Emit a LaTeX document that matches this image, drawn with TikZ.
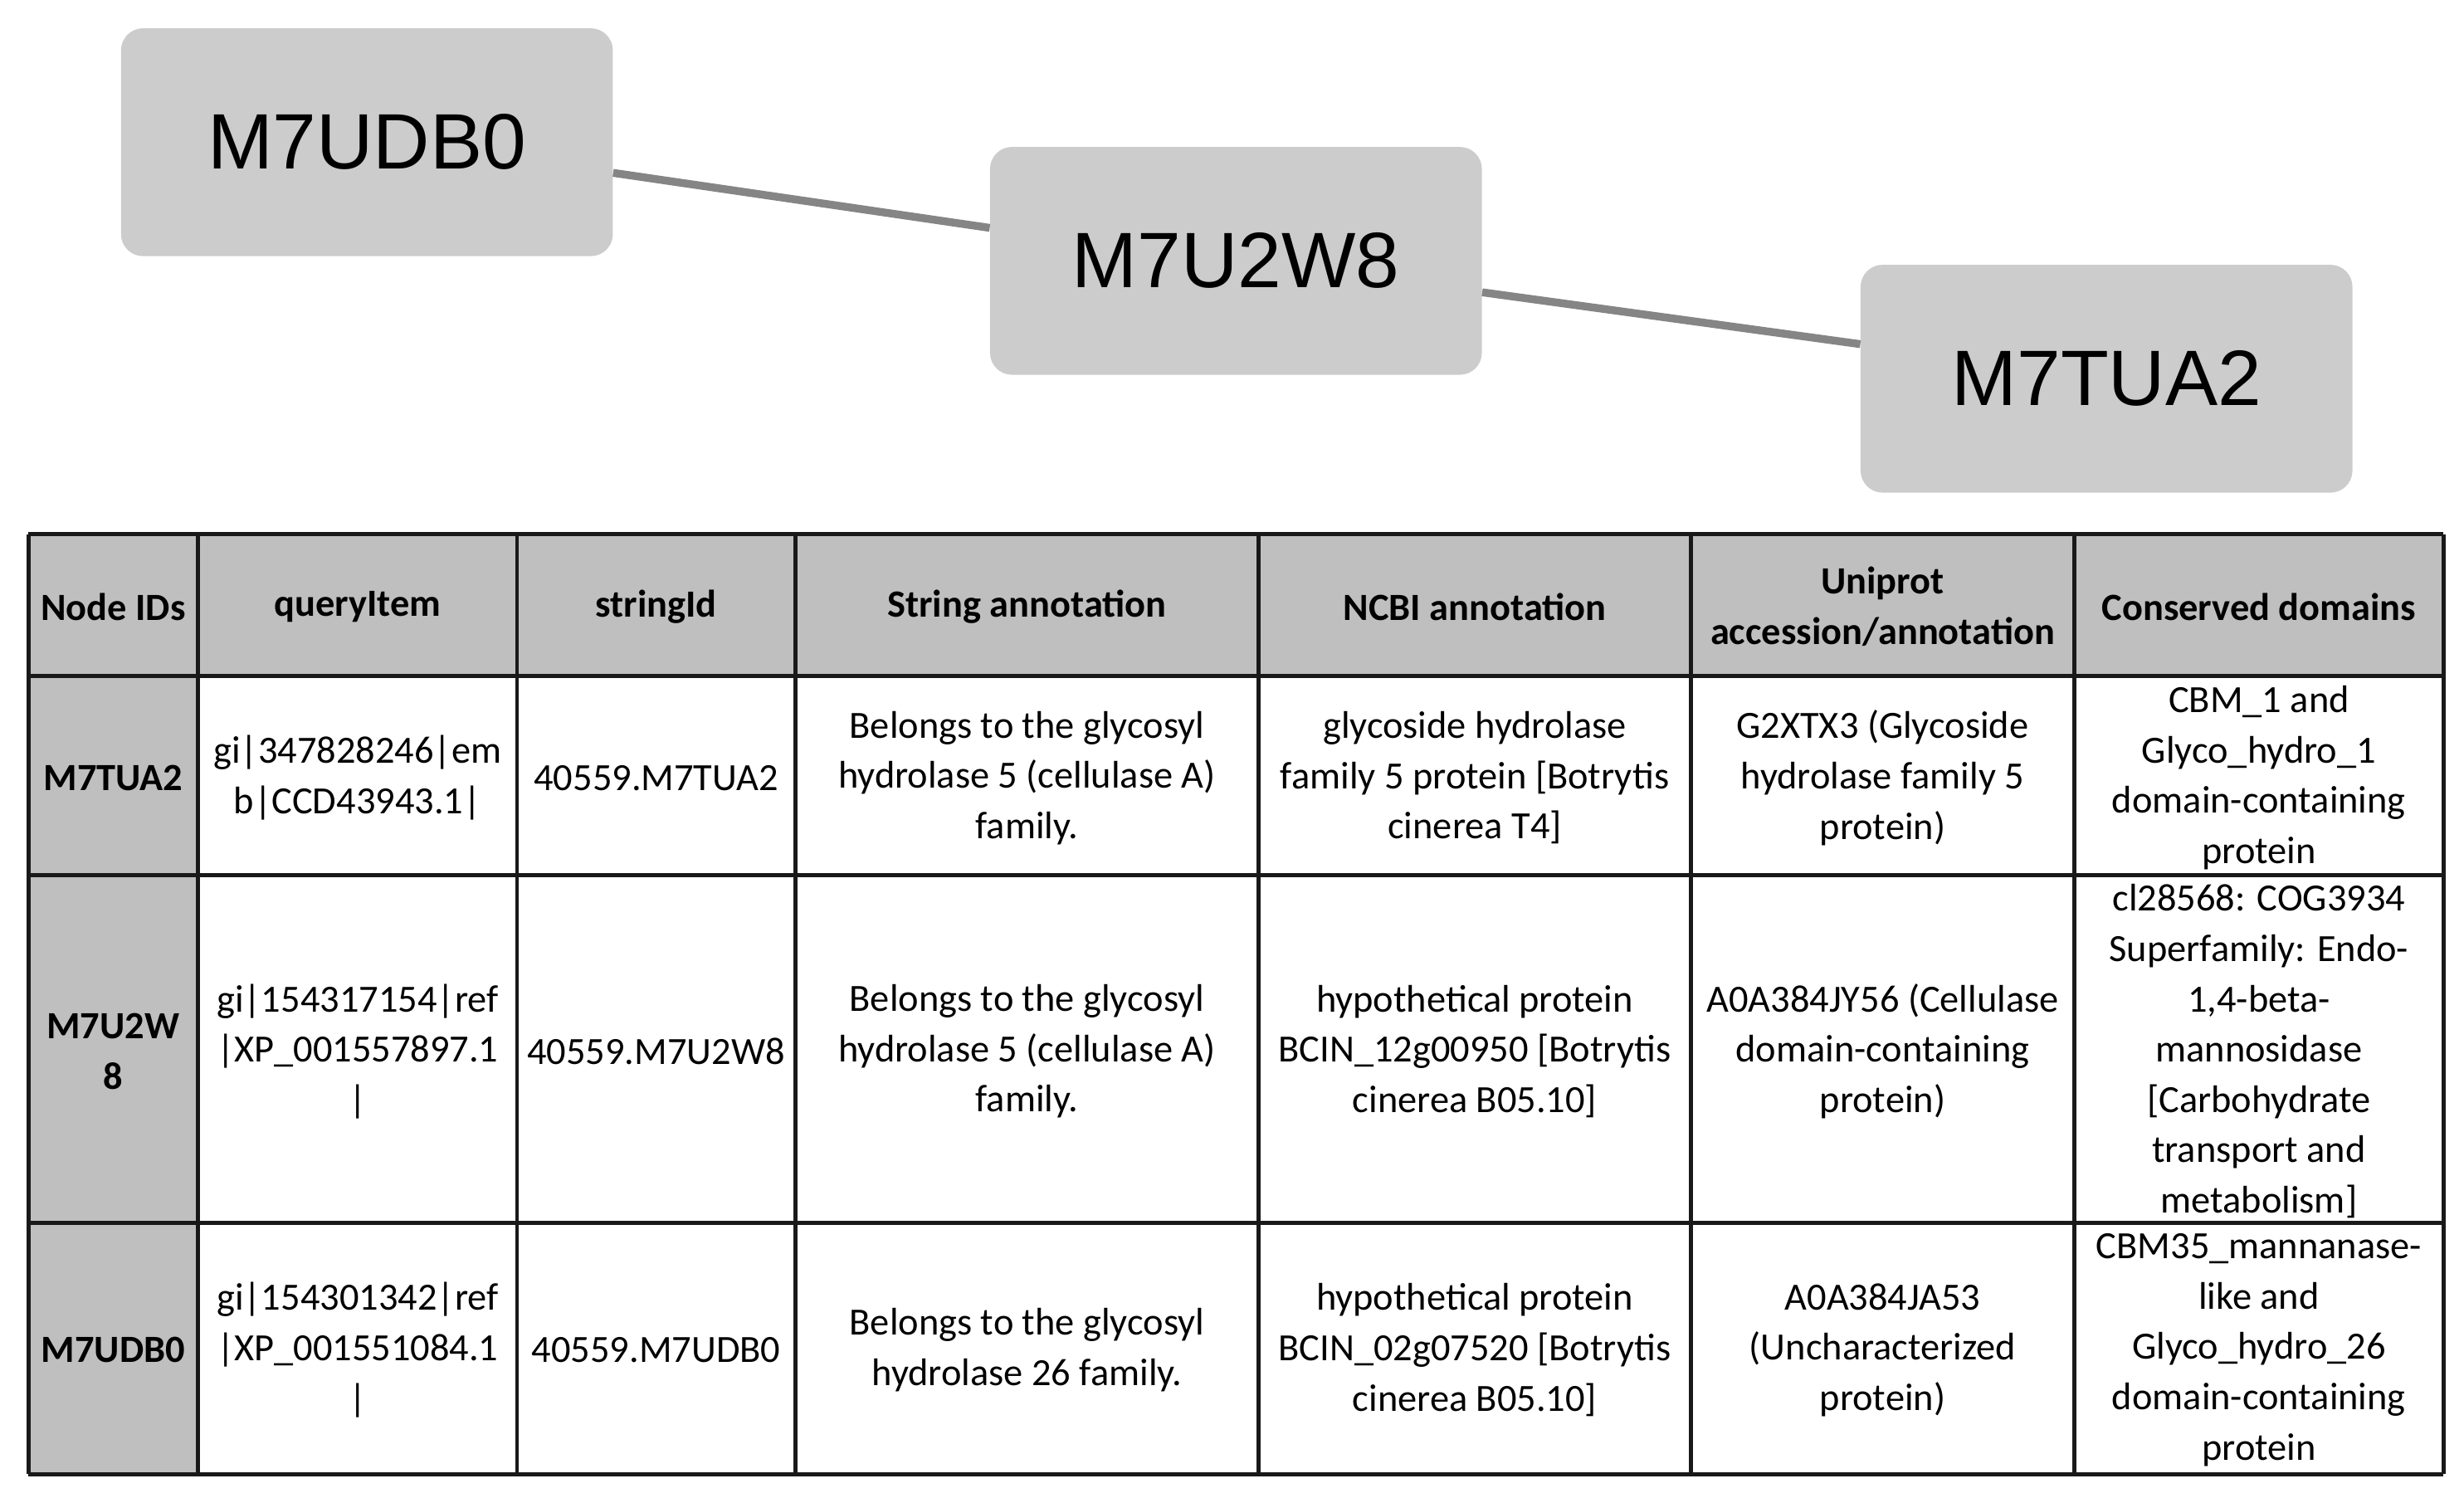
\documentclass[tikz,border=0pt]{standalone}
\usepackage{fontspec}
\setmainfont{Carlito}
\newfontfamily\arialf{Liberation Sans}
\begin{document}
\begin{tikzpicture}[x=1pt,y=-1pt,
  gnode/.style={draw=none,fill=black!20,rounded corners=14pt,minimum width=313pt,minimum height=145pt,font=\arialf\fontsize{50}{60}\selectfont,inner sep=0pt},
  edge/.style={draw=black!48,line width=5pt},
  cell/.style={align=center,font=\fontsize{24.5}{32}\selectfont,inner sep=0pt},
  hd/.style={cell,font=\bfseries\fontsize{24.5}{32}\selectfont},
  grid/.style={line width=2.6pt,black!90}]
\useasboundingbox (0,0) rectangle (1568,953);
\node[gnode] (a) at (233.5,90.5) {M7UDB0};
\node[gnode] (b) at (786.5,166) {M7U2W8};
\node[gnode] (c) at (1340.5,241) {M7TUA2};
\draw[edge] (a.east|-0,110) -- (b.west|-0,145);
\draw[edge] (b.east|-0,186) -- (c.west|-0,219);
% table fills
\fill[black!25] (18,340) rectangle (1555,430);
\fill[black!25] (18,430) rectangle (126,938);
% grid
\foreach \x in {18,126,329,506,801,1076,1320,1555} \draw[grid] (\x,340) -- (\x,938);
\foreach \y in {340,430,557,778,938} \draw[grid] (18,\y) -- (1555,\y);
% header
\node[hd] (h1) at (72,386) {Node IDs};
\node[hd] (h2) at (227.5,386) {queryItem};
\node[hd] (h3) at (417.5,386) {stringId};
\node[hd] (h4) at (653.5,386) {String annotation};
\node[hd] (h5) at (938.5,386) {NCBI annotation};
\node[hd] (h6) at (1198,386) {Uniprot\\accession/annotation};
\node[hd] (h7) at (1437.5,386) {Conserved domains};
% row 1
\node[hd] (r11) at (72,495) {M7TUA2};
\node[cell] (r12) at (227.5,495) {gi|347828246|em\\b|CCD43943.1|};
\node[cell] (r13) at (417.5,495) {40559.M7TUA2};
\node[cell] (r14) at (653.5,495) {Belongs to the glycosyl\\hydrolase 5 (cellulase A)\\family.};
\node[cell] (r15) at (938.5,495) {glycoside hydrolase\\family 5 protein {[}Botrytis\\cinerea T4]};
\node[cell] (r16) at (1198,495) {G2XTX3 (Glycoside\\hydrolase family 5\\protein)};
\node[cell] (r17) at (1437.5,495) {CBM\_1 and\\Glyco\_hydro\_1\\domain-containing\\protein};
% row 2
\node[hd] (r21) at (72,669) {M7U2W\\8};
\node[cell] (r22) at (227.5,669) {gi|154317154|ref\\|XP\_001557897.1\\|};
\node[cell] (r23) at (417.5,669) {40559.M7U2W8};
\node[cell] (r24) at (653.5,669) {Belongs to the glycosyl\\hydrolase 5 (cellulase A)\\family.};
\node[cell] (r25) at (938.5,669) {hypothetical protein\\BCIN\_12g00950 {[}Botrytis\\cinerea B05.10]};
\node[cell] (r26) at (1198,669) {A0A384JY56 (Cellulase\\domain-containing\\protein)};
\node[cell] (r27) at (1437.5,669) {cl28568: COG3934\\Superfamily: Endo-\\1,4-beta-\\mannosidase\\{[}Carbohydrate\\transport and\\metabolism]};
% row 3
\node[hd] (r31) at (72,859) {M7UDB0};
\node[cell] (r32) at (227.5,859) {gi|154301342|ref\\|XP\_001551084.1\\|};
\node[cell] (r33) at (417.5,859) {40559.M7UDB0};
\node[cell] (r34) at (653.5,859) {Belongs to the glycosyl\\hydrolase 26 family.};
\node[cell] (r35) at (938.5,859) {hypothetical protein\\BCIN\_02g07520 {[}Botrytis\\cinerea B05.10]};
\node[cell] (r36) at (1198,859) {A0A384JA53\\(Uncharacterized\\protein)};
\node[cell] (r37) at (1437.5,859) {CBM35\_mannanase-\\like and\\Glyco\_hydro\_26\\domain-containing\\protein};
\end{tikzpicture}
\end{document}
